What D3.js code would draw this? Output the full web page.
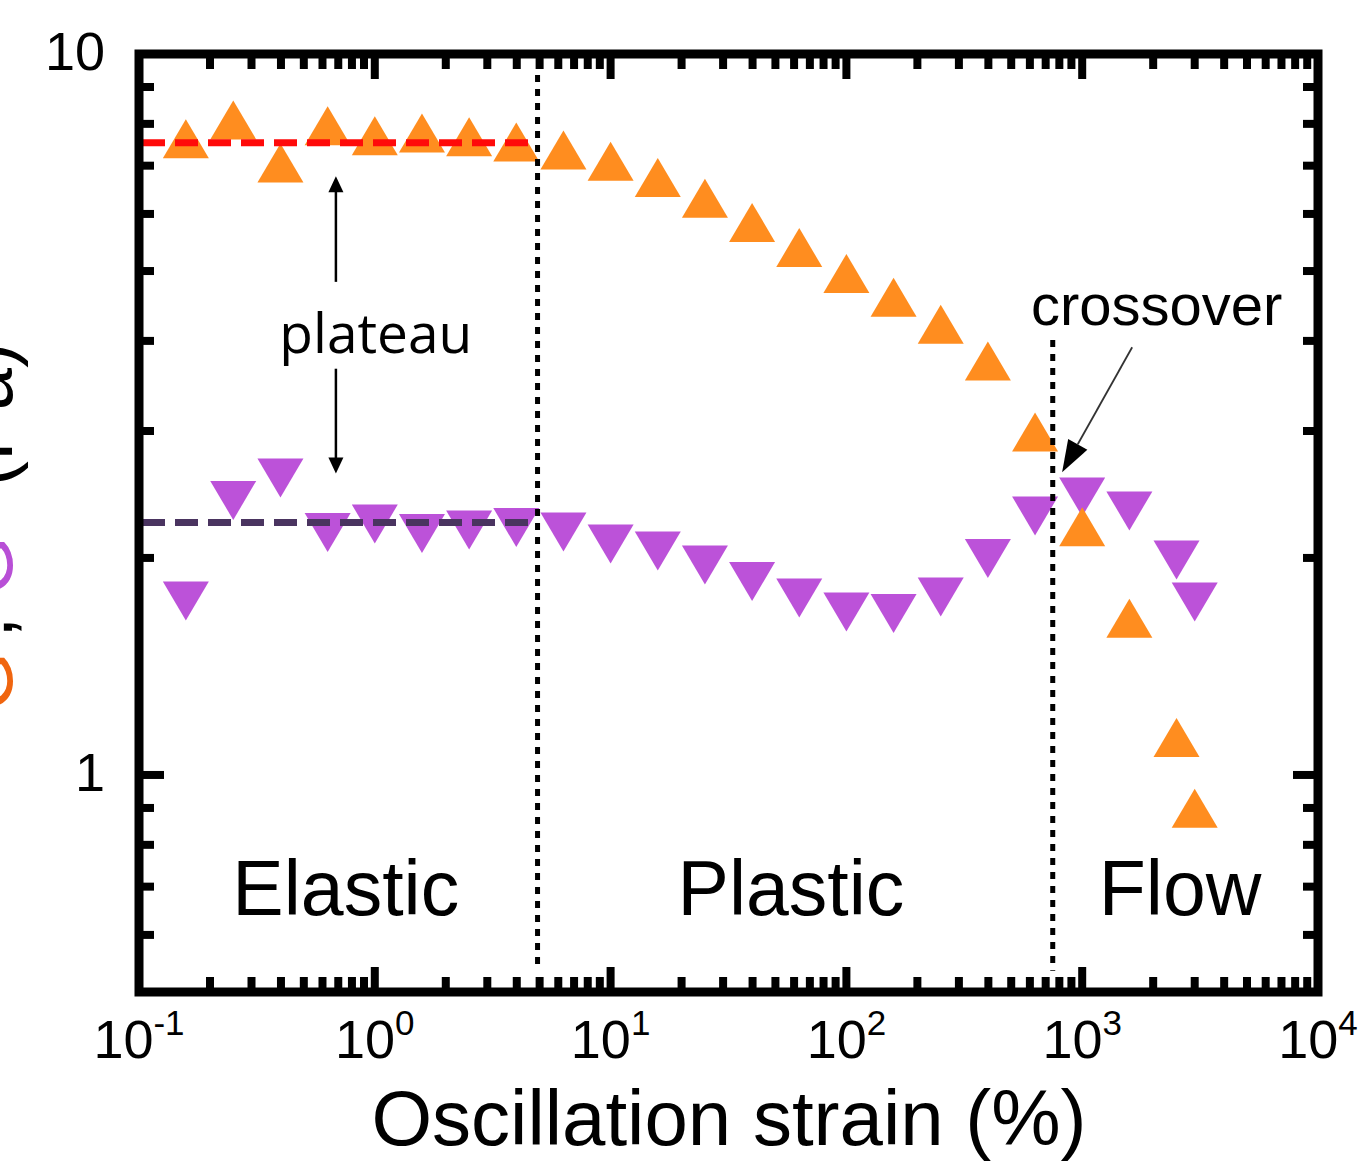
<!DOCTYPE html>
<html><head><meta charset="utf-8">
<script src="https://cdn.jsdelivr.net/npm/d3@7"></script>
<style>body{margin:0;background:#fff}</style>
</head><body>
<svg id="c" width="1359" height="1168" xmlns="http://www.w3.org/2000/svg"></svg>
<script>
// ---------- data ----------
const strain = [0.158,0.251,0.398,0.631,1,1.585,2.512,3.981,6.31,10,15.85,25.12,39.81,63.1,100,158.5,251.2,398.1,631,1000,1585,2512,3000];
const gPrime = [7.63,8.10,7.06,7.95,7.70,7.77,7.68,7.55,7.36,7.10,6.74,6.31,5.84,5.39,4.96,4.60,4.22,3.75,2.99,2.21,1.65,1.127,0.899];
const gDoublePrime = [1.743,2.403,2.582,2.170,2.229,2.163,2.187,2.204,2.173,2.091,2.045,1.956,1.855,1.760,1.683,1.675,1.766,1.997,2.287,2.430,2.324,1.987,1.738];
const xTickExponents = [-1,0,1,2,3,4];
const yTickLabels = ["1","10"];
const yTickValues = [1,10];
const regionNames = ["Elastic","Plastic","Flow"];
const regionCenters = [0.753,58.2,2600];
const regionBounds = [4.9,750];
const plateauLevels = [7.53,2.24];
const plateauEnd = 4.7;

// ---------- setup ----------
const svg = d3.select("#c");
const x = d3.scaleLog().domain([0.1,1e4]).range([139,1318]);
const y = d3.scaleLog().domain([0.5,10]).range([992,54]);
const FONT = "'Liberation Sans', Arial, sans-serif";
const ORANGE = "#ff8d1f", PURPLE = "#bc52d9";

const pts = strain.map((s,i)=>({s, gp:gPrime[i], gpp:gDoublePrime[i]}));
const hw = 23, hh = 19.5;
const triUp = (cx,cy)=>`M${cx},${cy-hh}L${cx+hw},${cy+hh}L${cx-hw},${cy+hh}Z`;
const triDown = (cx,cy)=>`M${cx-hw},${cy-hh}L${cx+hw},${cy-hh}L${cx},${cy+hh}Z`;

// markers
svg.append("g").selectAll("path").data(pts).join("path")
  .attr("d", d=>triDown(x(d.s), y(d.gpp))).attr("fill", PURPLE);
svg.append("g").selectAll("path").data(pts).join("path")
  .attr("d", d=>triUp(x(d.s), y(d.gp))).attr("fill", ORANGE);

// plateau dashed lines
const plateauColors = ["#ff0a0a","#4a3460"];
svg.append("g").selectAll("line").data(plateauLevels).join("line")
  .attr("x1", x(0.1)+3).attr("x2", x(plateauEnd))
  .attr("y1", d=>y(d)).attr("y2", d=>y(d))
  .attr("stroke", (d,i)=>plateauColors[i]).attr("stroke-width", 7)
  .attr("stroke-dasharray", "23,10");

// region boundaries (dotted)
const boundTop = [9.35, 4.01];
svg.append("g").selectAll("line").data(regionBounds).join("line")
  .attr("x1", d=>x(d)).attr("x2", d=>x(d))
  .attr("y1", (d,i)=>y(boundTop[i])).attr("y2", y(0.535))
  .attr("stroke", "#000").attr("stroke-width", 5)
  .attr("stroke-dasharray", "7,7");

// frame + ticks
const x0 = x(0.1), x1 = x(1e4), yT = y(10), yB = y(0.5);
const isMajor = v => Math.abs(Math.log10(v) - Math.round(Math.log10(v))) < 1e-6;
const tg = svg.append("g").attr("stroke", "#000").attr("stroke-width", 8);
x.ticks().forEach(t=>{
  const L = isMajor(t) ? 25 : 15;
  tg.append("line").attr("x1", x(t)).attr("x2", x(t)).attr("y1", yB).attr("y2", yB-L);
  tg.append("line").attr("x1", x(t)).attr("x2", x(t)).attr("y1", yT).attr("y2", yT+L);
});
y.ticks().forEach(t=>{
  const L = isMajor(t) ? 25 : 15;
  tg.append("line").attr("y1", y(t)).attr("y2", y(t)).attr("x1", x0).attr("x2", x0+L);
  tg.append("line").attr("y1", y(t)).attr("y2", y(t)).attr("x1", x1).attr("x2", x1-L);
});
svg.append("rect").attr("x", x0).attr("y", yT).attr("width", x1-x0).attr("height", yB-yT)
  .attr("fill", "none").attr("stroke", "#000").attr("stroke-width", 9);

// x tick labels
const xl = svg.append("g").attr("font-family", FONT).attr("fill", "#000");
xTickExponents.forEach(e=>{
  const t = xl.append("text").attr("x", x(Math.pow(10,e))).attr("y", 1058)
    .attr("text-anchor", "middle").attr("font-size", 54);
  t.append("tspan").text("10");
  t.append("tspan").attr("font-size", 35).attr("dy", -23).text(String(e));
});
// y tick labels
yTickValues.forEach((v,i)=>{
  xl.append("text").attr("x", 105).attr("y", y(v)+16).attr("text-anchor", "end")
    .attr("font-size", 54).text(yTickLabels[i]);
});

// axis titles
svg.append("text").attr("x", 729).attr("y", 1145).attr("text-anchor", "middle")
  .attr("font-family", FONT).attr("font-size", 78).text("Oscillation strain (%)");
const yt = svg.append("text").attr("transform", "translate(12,527) rotate(-90)")
  .attr("text-anchor", "middle").attr("font-family", FONT).attr("font-size", 76);
yt.append("tspan").attr("fill", "#f0650f").text("G");
yt.append("tspan").attr("fill", "#000").text("', ");
yt.append("tspan").attr("fill", "#b84fd6").text("G");
yt.append("tspan").attr("fill", "#000").text("'' (Pa)");

// region labels
svg.append("g").selectAll("text").data(regionNames).join("text")
  .attr("x", (d,i)=>x(regionCenters[i])).attr("y", y(0.639))
  .attr("text-anchor", "middle").attr("font-family", FONT).attr("font-size", 77)
  .text(d=>d);

// plateau annotation
const px = x(0.684);
const ag = svg.append("g");
ag.append("line").attr("x1", px).attr("x2", px).attr("y1", y(4.83)).attr("y2", y(6.55))
  .attr("stroke", "#000").attr("stroke-width", 2.5);
ag.append("path").attr("d", `M${px},${y(6.77)}L${px+7.5},${y(6.77)+16}L${px-7.5},${y(6.77)+16}Z`).attr("fill","#000");
ag.append("line").attr("x1", px).attr("x2", px).attr("y1", y(3.66)).attr("y2", y(2.72))
  .attr("stroke", "#000").attr("stroke-width", 2.5);
ag.append("path").attr("d", `M${px},${y(2.62)}L${px+7.5},${y(2.62)-16}L${px-7.5},${y(2.62)-16}Z`).attr("fill","#000");
ag.append("text").attr("x", x(1.01)).attr("y", y(3.85)).attr("text-anchor", "middle")
  .attr("font-family", "'Open Sans', 'Noto Sans', sans-serif").attr("font-size", 55).text("plateau");

// crossover annotation
svg.append("text").attr("x", x(2069)).attr("y", y(4.21)).attr("text-anchor", "middle")
  .attr("font-family", FONT).attr("font-size", 58).text("crossover");
const sx = x(1629), sy = y(3.92), ex = x(822), ey = y(2.63);
const ang = Math.atan2(ey-sy, ex-sx), hl = 32, hwid = 11;
const bx = ex - hl*Math.cos(ang), by = ey - hl*Math.sin(ang);
svg.append("line").attr("x1", sx).attr("y1", sy).attr("x2", bx).attr("y2", by)
  .attr("stroke", "#333").attr("stroke-width", 1.8);
svg.append("path").attr("d", `M${ex},${ey}L${bx + hwid*Math.sin(ang)},${by - hwid*Math.cos(ang)}L${bx - hwid*Math.sin(ang)},${by + hwid*Math.cos(ang)}Z`)
  .attr("fill", "#000");
</script>
</body></html>
